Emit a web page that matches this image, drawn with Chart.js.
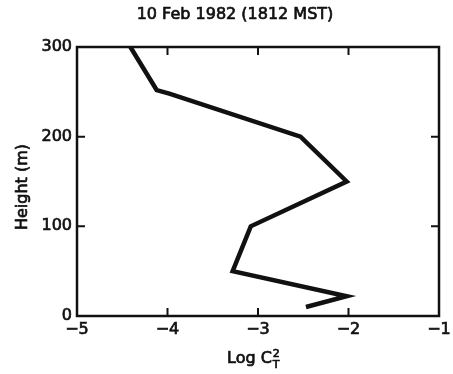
<!DOCTYPE html>
<html>
<head>
<meta charset="utf-8">
<script src="https://cdn.jsdelivr.net/npm/chart.js@4.4.1/dist/chart.umd.min.js"></script>
<style>
  html, body { margin: 0; padding: 0; background: #fff; }
  #wrap { width: 453px; height: 374px; position: relative; }
</style>
</head>
<body>
<div id="wrap"><canvas id="c" width="453" height="374"></canvas></div>
<script>
// Temperature structure profile, 10 Feb 1982
const heights = [300, 252, 248, 200, 150, 100, 50, 22, 10];
const logCT2 = [-4.41, -4.12, -3.98, -2.53, -2.02, -3.08, -3.28, -2.02, -2.47];
const xTicks = [-5, -4, -3, -2, -1];
const yTicks = [0, 100, 200, 300];

const titleText = '10 Feb 1982 (1812 MST)';
const yTitle = 'Height (m)';
const FONT = '"DejaVu Sans", sans-serif';
const INK = '#111';
const STROKE = 0.7;

const points = logCT2.map((v, i) => ({ x: v, y: heights[i] }));

function heavyText(ctx, txt, x, y) {
  ctx.fillText(txt, x, y);
  ctx.strokeText(txt, x, y);
}

// Frame, inward tick marks and axis titles
const framePlugin = {
  id: 'frame',
  afterDraw(chart) {
    const { ctx, chartArea: a, scales } = chart;
    const xs = scales.x, ys = scales.y;
    ctx.save();
    ctx.strokeStyle = INK;
    ctx.lineWidth = 2.5;
    ctx.strokeRect(a.left, a.top, a.right - a.left, a.bottom - a.top);

    ctx.lineWidth = 2;
    const tl = 8;
    xTicks.slice(1, -1).forEach(v => {
      const px = xs.getPixelForValue(v);
      ctx.beginPath();
      ctx.moveTo(px, a.bottom); ctx.lineTo(px, a.bottom - tl);
      ctx.moveTo(px, a.top); ctx.lineTo(px, a.top + tl);
      ctx.stroke();
    });
    yTicks.slice(1, -1).forEach(v => {
      const py = ys.getPixelForValue(v);
      ctx.beginPath();
      ctx.moveTo(a.left, py); ctx.lineTo(a.left + tl, py);
      ctx.moveTo(a.right, py); ctx.lineTo(a.right - tl, py);
      ctx.stroke();
    });

    ctx.fillStyle = INK;
    ctx.lineWidth = STROKE;
    ctx.lineJoin = 'round';
    // chart title
    ctx.font = '16px ' + FONT;
    ctx.textAlign = 'center';
    ctx.textBaseline = 'middle';
    heavyText(ctx, titleText, 235, 15);

    // y title
    ctx.save();
    ctx.translate(23, 187);
    ctx.rotate(-Math.PI / 2);
    ctx.font = '16px ' + FONT;
    heavyText(ctx, yTitle, 0, 0);
    ctx.restore();

    // x title: Log C with superscript 2 and subscript T
    ctx.font = '16px ' + FONT;
    ctx.textAlign = 'left';
    ctx.textBaseline = 'alphabetic';
    const main = 'Log C';
    const w = ctx.measureText(main).width;
    const x0 = 227;
    heavyText(ctx, main, x0, 363);
    ctx.font = '11px ' + FONT;
    heavyText(ctx, '2', x0 + w + 1, 357);
    heavyText(ctx, 'T', x0 + w + 1, 368);
    ctx.restore();
  }
};

new Chart(document.getElementById('c'), {
  type: 'scatter',
  data: {
    datasets: [{
      data: points,
      showLine: true,
      borderColor: INK,
      borderWidth: 4.5,
      borderJoinStyle: 'miter',
      borderCapStyle: 'butt',
      pointRadius: 0,
      fill: false,
      tension: 0
    }]
  },
  options: {
    responsive: false,
    animation: false,
    layout: { padding: { top: 47, right: 0, left: 0, bottom: 0 } },
    plugins: { legend: { display: false }, tooltip: { enabled: false } },
    scales: {
      x: {
        type: 'linear',
        min: -5, max: -1,
        afterBuildTicks(s) { s.ticks = xTicks.map(v => ({ value: v })); },
        afterFit(s) { s.height = 58; s.paddingRight = 14; },
        grid: { display: false, drawTicks: false },
        border: { display: false },
        ticks: {
          color: INK,
          padding: 4,
          textStrokeColor: INK,
          textStrokeWidth: STROKE,
          font: { family: FONT, size: 16 },
          callback: v => (v < 0 ? '\u2212' : '') + Math.abs(v)
        }
      },
      y: {
        type: 'linear',
        min: 0, max: 300,
        afterBuildTicks(s) { s.ticks = yTicks.map(v => ({ value: v })); },
        afterFit(s) { s.width = 77; },
        grid: { display: false, drawTicks: false },
        border: { display: false },
        ticks: {
          color: INK,
          padding: 5,
          textStrokeColor: INK,
          textStrokeWidth: STROKE,
          font: { family: FONT, size: 16 }
        }
      }
    }
  },
  plugins: [framePlugin]
});
</script>
</body>
</html>
